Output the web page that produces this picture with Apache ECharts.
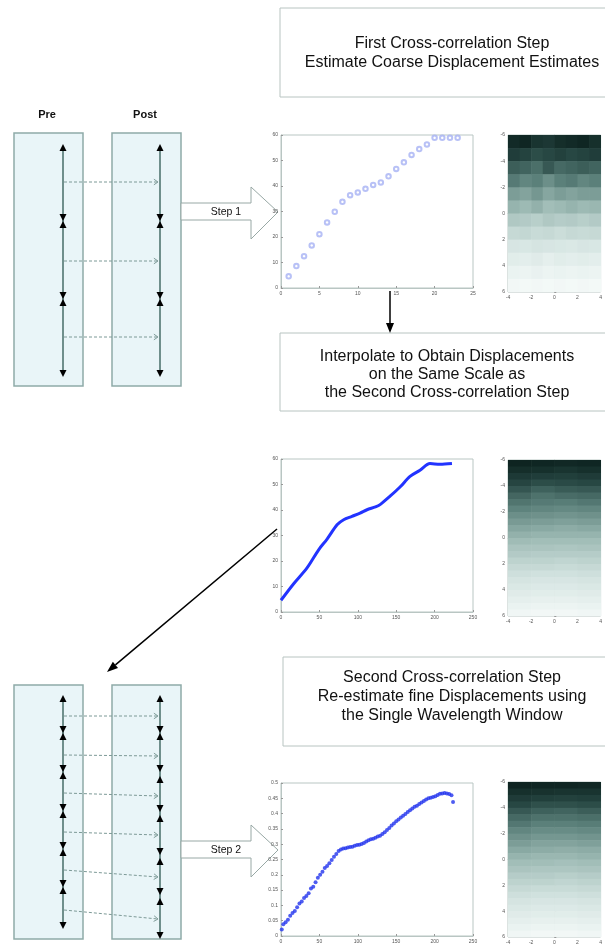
<!DOCTYPE html>
<html>
<head>
<meta charset="utf-8">
<script src="https://cdn.jsdelivr.net/npm/echarts@6/dist/echarts.min.js"></script>
<style>
html,body{margin:0;padding:0;background:#fff;}
#chart{width:605px;height:945px;}
</style>
</head>
<body>
<div id="chart"></div>
<script>
// ---------- DATA ----------
// Plot 1: coarse displacement estimates (open circles)
const plot1X = [1,2,3,4,5,6,7,8,9,10,11,12,13,14,15,16,17,18,19,20,21,22,23];
const plot1Y = [4.6,8.6,12.5,16.7,21.1,25.7,29.9,33.8,36.4,37.5,38.9,40.4,41.4,43.8,46.7,49.3,52.2,54.5,56.3,58.9,58.9,58.9,58.9];

// Plot 2: interpolated displacements (line)
const plot2X = [0,16.5,33.9,49,60,73,81.6,92.4,103,112,123,129,142,155,168,181,194,207,222.6];
const plot2Y = [4.6,11.1,17.3,24.4,28.6,34.2,36.2,37.5,38.8,40.1,41.2,42.1,45.4,49,53.2,55.6,58.2,57.9,58.2];

// Plot 3: fine displacements (dots)
const plot3X = [1,3,6,9,12,15,18,21,24,27,30,33,36,39,42,45,48,51,54,57,60,63,66,69,72,75,78,81,84,87,90,93,96,99,102,105,108,111,114,117,120,123,126,129,132,135,138,141,144,147,150,153,156,159,162,165,168,171,174,177,180,183,186,189,192,195,198,201,204,207,210,213,216,219,222,224];
const plot3Y = [0.021,0.038,0.045,0.053,0.066,0.075,0.082,0.094,0.106,0.113,0.124,0.131,0.140,0.155,0.161,0.176,0.190,0.200,0.210,0.222,0.229,0.238,0.248,0.259,0.268,0.278,0.283,0.286,0.287,0.289,0.291,0.292,0.295,0.297,0.298,0.301,0.304,0.309,0.313,0.316,0.318,0.321,0.325,0.328,0.333,0.339,0.346,0.353,0.361,0.368,0.375,0.381,0.387,0.393,0.399,0.405,0.411,0.417,0.422,0.426,0.431,0.436,0.441,0.446,0.450,0.452,0.454,0.457,0.461,0.465,0.466,0.467,0.466,0.464,0.460,0.438];

// Heatmap 1 (coarse): 12 rows (y -5.5..5.5) x 8 cols (x -3.5..3.5), darkness 0..1
const heat1XCenters = [-3.5,-2.5,-1.5,-0.5,0.5,1.5,2.5,3.5];
const heat1YCenters = [-5.5,-4.5,-3.5,-2.5,-1.5,-0.5,0.5,1.5,2.5,3.5,4.5,5.5];
const heat1Rows = [
  [0.95,0.97,0.90,0.88,0.93,0.95,0.97,0.92],
  [0.85,0.82,0.78,0.80,0.83,0.80,0.82,0.85],
  [0.72,0.70,0.66,0.74,0.68,0.70,0.72,0.70],
  [0.62,0.58,0.60,0.55,0.60,0.62,0.58,0.60],
  [0.50,0.48,0.52,0.47,0.50,0.48,0.50,0.50],
  [0.42,0.40,0.43,0.38,0.40,0.42,0.40,0.41],
  [0.33,0.32,0.30,0.33,0.31,0.32,0.30,0.32],
  [0.25,0.26,0.24,0.25,0.23,0.25,0.24,0.25],
  [0.18,0.17,0.19,0.18,0.17,0.16,0.18,0.17],
  [0.12,0.11,0.13,0.10,0.12,0.11,0.12,0.11],
  [0.07,0.06,0.08,0.06,0.07,0.06,0.07,0.06],
  [0.03,0.02,0.03,0.02,0.03,0.02,0.03,0.02]
];
// Heatmap 2 & 3 (fine): 24 rows (y -5.75..5.75) x 4 cols (x -3,-1,1,3)
const heatFineXCenters = [-3,-1,1,3];
const heatFineYCenters = [-5.75,-5.25,-4.75,-4.25,-3.75,-3.25,-2.75,-2.25,-1.75,-1.25,-0.75,-0.25,0.25,0.75,1.25,1.75,2.25,2.75,3.25,3.75,4.25,4.75,5.25,5.75];
const heat2Rows = [
  [0.98,0.97,0.96,0.97],[0.93,0.92,0.90,0.92],[0.87,0.85,0.84,0.86],[0.81,0.78,0.79,0.80],
  [0.75,0.71,0.73,0.74],[0.69,0.65,0.67,0.68],[0.64,0.62,0.61,0.63],[0.59,0.58,0.57,0.58],
  [0.55,0.54,0.53,0.54],[0.51,0.50,0.49,0.50],[0.47,0.46,0.45,0.46],[0.43,0.42,0.42,0.42],
  [0.39,0.38,0.38,0.38],[0.35,0.35,0.34,0.35],[0.32,0.31,0.31,0.31],[0.28,0.28,0.27,0.28],
  [0.25,0.25,0.24,0.25],[0.22,0.21,0.21,0.22],[0.19,0.18,0.18,0.19],[0.16,0.15,0.15,0.16],
  [0.13,0.12,0.12,0.13],[0.10,0.09,0.09,0.10],[0.07,0.06,0.06,0.07],[0.04,0.03,0.03,0.04]
];
const heat3Rows = [
  [0.98,0.97,0.97,0.96],[0.92,0.91,0.90,0.90],[0.86,0.84,0.83,0.84],[0.80,0.77,0.77,0.78],
  [0.74,0.71,0.70,0.72],[0.68,0.65,0.65,0.66],[0.63,0.60,0.60,0.61],[0.58,0.56,0.56,0.57],
  [0.54,0.52,0.52,0.53],[0.50,0.48,0.48,0.49],[0.46,0.45,0.44,0.45],[0.42,0.41,0.41,0.42],
  [0.38,0.38,0.37,0.38],[0.35,0.34,0.34,0.35],[0.31,0.31,0.30,0.31],[0.28,0.28,0.27,0.28],
  [0.25,0.24,0.24,0.25],[0.22,0.21,0.21,0.22],[0.19,0.18,0.18,0.19],[0.16,0.15,0.15,0.16],
  [0.13,0.12,0.12,0.13],[0.10,0.09,0.09,0.10],[0.07,0.06,0.06,0.07],[0.04,0.03,0.03,0.04]
];

// Text
const box1Lines = ['First Cross-correlation Step','Estimate Coarse Displacement Estimates'];
const box2Lines = ['Interpolate to Obtain Displacements','on the Same Scale as','the Second Cross-correlation Step'];
const box3Lines = ['Second Cross-correlation Step','Re-estimate fine Displacements using','the Single Wavelength Window'];

// ---------- BUILD ----------
const chart = echarts.init(document.getElementById('chart'), null, {renderer:'canvas'});
const zip = (xs, ys) => xs.map((x,i)=>[x, ys[i]]);
function heatData(xs, ys, rows, w, h){
  const out=[];
  rows.forEach((r,ri)=>r.forEach((v,ci)=>out.push([xs[ci], ys[ri], v, w, h])));
  return out;
}
const FONT = '"Liberation Sans", Arial, sans-serif';
const axisCol = '#b9c6c3';
const lblStyle = {fontSize:5, color:'#555', margin:3, fontFamily:FONT};
function valAxis(grid, min, max, interval, extra){
  return Object.assign({
    type:'value', gridIndex:grid, min, max, interval,
    axisLine:{show:true, lineStyle:{color:axisCol, width:1}},
    axisTick:{show:true, inside:true, length:2, lineStyle:{color:'#999'}},
    splitLine:{show:false},
    axisLabel:Object.assign({}, lblStyle)
  }, extra||{});
}
const heatColors = ['#f7fbfa','#d3e3e0','#9dbab4','#5b807a','#274743','#0b201d'];
function renderCell(params, api){
  const x=api.value(0), y=api.value(1), w=api.value(3), h=api.value(4);
  const p1=api.coord([x-w/2, y-h/2]), p2=api.coord([x+w/2, y+h/2]);
  return {type:'rect', shape:{x:Math.min(p1[0],p2[0]), y:Math.min(p1[1],p2[1]), width:Math.abs(p2[0]-p1[0])+0.6, height:Math.abs(p2[1]-p1[1])+0.6},
    style:{fill:api.visual('color')}};
}

const grids = [
  {left:281, top:135, width:192, height:153},
  {left:508, top:135, width:106, height:157},
  {left:281, top:459, width:192, height:153},
  {left:508, top:460, width:104, height:156},
  {left:281, top:783, width:192, height:153},
  {left:508, top:782, width:104, height:156}
].map(g=>Object.assign({show:true, borderColor:axisCol, borderWidth:1, backgroundColor:'transparent'}, g));

const xAxes = [
  valAxis(0, 0, 25, 5),
  valAxis(1, -4, 4, 2),
  valAxis(2, 0, 250, 50),
  valAxis(3, -4, 4, 2),
  valAxis(4, 0, 250, 50),
  valAxis(5, -4, 4, 2)
];
const yAxes = [
  valAxis(0, 0, 60, 10),
  valAxis(1, -6, 6, 2, {inverse:true}),
  valAxis(2, 0, 60, 10),
  valAxis(3, -6, 6, 2, {inverse:true}),
  valAxis(4, 0, 0.5, 0.05, {axisLabel:Object.assign({}, lblStyle, {formatter:v=>String(+v.toFixed(2))})}),
  valAxis(5, -6, 6, 2, {inverse:true})
];

const series = [
  {type:'scatter', xAxisIndex:0, yAxisIndex:0, data:zip(plot1X, plot1Y), symbol:'emptyCircle', symbolSize:4.5,
    itemStyle:{color:'#a6b1f4', borderWidth:0.9}, silent:true, z:3},
  {type:'line', xAxisIndex:2, yAxisIndex:2, data:zip(plot2X, plot2Y), showSymbol:false, smooth:0.3,
    lineStyle:{color:'#2233ff', width:3}, silent:true},
  {type:'scatter', xAxisIndex:4, yAxisIndex:4, data:zip(plot3X, plot3Y), symbol:'circle', symbolSize:4,
    itemStyle:{color:'#2233ee'}, silent:true},
  {type:'custom', xAxisIndex:1, yAxisIndex:1, renderItem:renderCell, clip:true, encode:{x:0,y:1},
    data:heatData(heat1XCenters, heat1YCenters, heat1Rows, 1, 1), silent:true, z:1},
  {type:'custom', xAxisIndex:3, yAxisIndex:3, renderItem:renderCell, clip:true, encode:{x:0,y:1},
    data:heatData(heatFineXCenters, heatFineYCenters, heat2Rows, 2, 0.5), silent:true, z:1},
  {type:'custom', xAxisIndex:5, yAxisIndex:5, renderItem:renderCell, clip:true, encode:{x:0,y:1},
    data:heatData(heatFineXCenters, heatFineYCenters, heat3Rows, 2, 0.5), silent:true, z:1}
];
const visualMaps = [3,4,5].map(si=>({type:'continuous', show:false, seriesIndex:si, dimension:2, min:0, max:1, inRange:{color:heatColors}}));

// ---------- DIAGRAM GRAPHICS ----------
const G = [];
const panelFill = '#e9f5f8', panelStroke = '#8eaaa8', stemColor = '#6f8f8c';
function rect(x,y,w,h,fill,stroke,lw){ G.push({type:'rect', shape:{x,y,width:w,height:h}, style:{fill, stroke, lineWidth:lw}, silent:true}); }
function line(x1,y1,x2,y2,stroke,lw,dash){ G.push({type:'line', shape:{x1,y1,x2,y2}, style:{stroke, lineWidth:lw, lineDash:dash||null}, silent:true}); }
function poly(pts, fill, stroke, lw){ G.push({type:'polygon', shape:{points:pts}, style:{fill, stroke:stroke||null, lineWidth:lw||0}, silent:true}); }
function upTri(cx, tip){ poly([[cx,tip],[cx-3.5,tip+7],[cx+3.5,tip+7]], '#000'); }
function downTri(cx, tip){ poly([[cx,tip],[cx-3.5,tip-7],[cx+3.5,tip-7]], '#000'); }
function text(str, x, y, size, weight, align){
  G.push({type:'text', x, y, style:{text:str, fill:'#111', font:(weight||'normal')+' '+size+'px '+FONT, textAlign:align||'center', textVerticalAlign:'middle'}, silent:true});
}
function dashArrow(x1,y1,x2,y2){
  line(x1,y1,x2,y2,'#7d9a97',1,[3,2]);
  const a=Math.atan2(y2-y1,x2-x1);
  const b1=[x2-5*Math.cos(a-0.6), y2-5*Math.sin(a-0.6)], b2=[x2-5*Math.cos(a+0.6), y2-5*Math.sin(a+0.6)];
  G.push({type:'polyline', shape:{points:[b1,[x2,y2],b2]}, style:{stroke:'#7d9a97', lineWidth:1, fill:null}, silent:true});
}
function solidArrow(x1,y1,x2,y2,lw,hl,hw){
  const a=Math.atan2(y2-y1,x2-x1);
  const bx=x2-hl*Math.cos(a), by=y2-hl*Math.sin(a);
  line(x1,y1,bx,by,'#000',lw);
  poly([[x2,y2],[bx+hw*Math.sin(a), by-hw*Math.cos(a)],[bx-hw*Math.sin(a), by+hw*Math.cos(a)]], '#000');
}
function bigArrow(y, label){
  poly([[181,y-9],[251,y-9],[251,y-25],[278,y],[251,y+27],[251,y+8],[181,y+8]], '#fff', '#98a8a5', 1);
  text(label, 226, y, 10.5, 'normal');
}

// Text boxes
const TS = 16;
rect(280,8,340,89,'#fff','#b8c4c1',1);
text(box1Lines[0], 452, 44, TS); text(box1Lines[1], 452, 63, TS);
rect(280,333,340,78,'#fff','#b8c4c1',1);
text(box2Lines[0], 447, 357, TS); text(box2Lines[1], 447, 375, TS); text(box2Lines[2], 447, 393, TS);
rect(283,657,340,89,'#fff','#b8c4c1',1);
text(box3Lines[0], 452, 678, TS); text(box3Lines[1], 452, 697, TS); text(box3Lines[2], 452, 716, TS);

// Pre / Post labels
text('Pre', 47, 115, 11, 'bold'); text('Post', 145, 115, 11, 'bold');

// Top panels
rect(14,133,69,253,panelFill,panelStroke,1.5);
rect(112,133,69,253,panelFill,panelStroke,1.5);
[63,160].forEach(cx=>{
  line(cx,146,cx,375,stemColor,2);
  upTri(cx,144);
  downTri(cx,221); upTri(cx,221);
  downTri(cx,299); upTri(cx,299);
  downTri(cx,377);
});
[[182,182],[261,261],[337,337]].forEach(p=>dashArrow(64,p[0],158,p[1]));

// Bottom panels
rect(14,685,69,254,panelFill,panelStroke,1.5);
rect(112,685,69,254,panelFill,panelStroke,1.5);
line(63,697,63,927,stemColor,2);
upTri(63,695);
[733,772,811,849,887].forEach(c=>{downTri(63,c); upTri(63,c);});
downTri(63,929);
line(160,697,160,937,stemColor,2);
upTri(160,695);
downTri(160,733); upTri(160,733);
[[772,776],[812,815],[855,858],[895,898]].forEach(p=>{downTri(160,p[0]); upTri(160,p[1]);});
downTri(160,939);
[[716,716],[755,756],[793,796],[832,835],[870,877],[910,919]].forEach(p=>dashArrow(64,p[0],158,p[1]));

// Step arrows
bigArrow(212,'Step 1');
bigArrow(850,'Step 2');

// Flow arrows
solidArrow(390,291,390,333,1.5,10,4);
solidArrow(277,529,107,672,1.5,11,4);

chart.setOption({
  backgroundColor:'#fff',
  animation:false,
  grid:grids, xAxis:xAxes, yAxis:yAxes, series, visualMap:visualMaps,
  graphic:{elements:G}
});
</script>
</body>
</html>
